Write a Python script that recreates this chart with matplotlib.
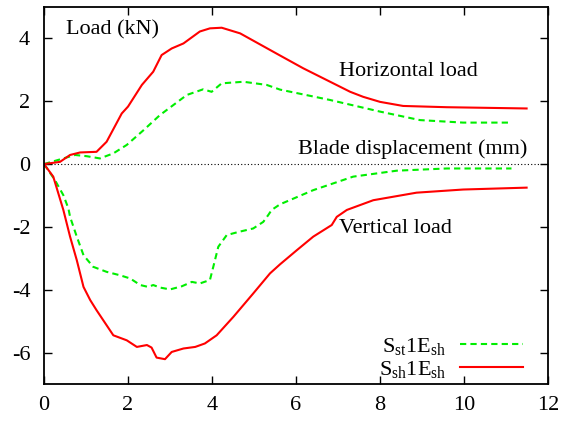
import matplotlib
matplotlib.use("Agg")
import matplotlib.pyplot as plt
import numpy as np

plt.rcParams['font.family'] = ['Liberation Serif', 'DejaVu Serif']
plt.rcParams['mathtext.fontset'] = 'custom'
plt.rcParams['mathtext.rm'] = 'Liberation Serif'
plt.rcParams['mathtext.it'] = 'Liberation Serif:italic'

# Sst1Esh (green, dashed) horizontal load
st_h_x = [0, 0.46, 0.74, 1.02, 1.33, 1.65, 1.97, 2.37, 2.76, 3.08, 3.40, 3.79, 3.99, 4.23, 4.75, 5.30, 5.62, 6.81, 8.0, 8.95, 9.98, 11.13]
st_h_y = [0, 0.18, 0.29, 0.25, 0.18, 0.34, 0.61, 1.08, 1.56, 1.88, 2.20, 2.38, 2.30, 2.57, 2.62, 2.52, 2.37, 2.04, 1.67, 1.40, 1.32, 1.32]
# Sst1Esh vertical load
st_v_x = [0, 0.26, 0.46, 0.58, 0.62, 0.78, 0.94, 1.17, 1.49, 1.81, 2.05, 2.29, 2.48, 2.60, 2.76, 3.0, 3.28, 3.52, 3.71, 3.95, 4.03, 4.15, 4.35, 4.63, 4.98, 5.22, 5.34, 5.42, 5.62, 6.41, 7.36, 8.40, 9.59, 11.13]
st_v_y = [0, -0.51, -0.99, -1.41, -1.68, -2.31, -2.90, -3.27, -3.43, -3.54, -3.64, -3.85, -3.91, -3.85, -3.93, -3.99, -3.89, -3.75, -3.80, -3.69, -3.27, -2.63, -2.26, -2.16, -2.05, -1.84, -1.62, -1.46, -1.28, -0.83, -0.40, -0.21, -0.14, -0.14]
# Ssh1Esh (red, solid) horizontal load
sh_h_x = [0, 0.38, 0.62, 0.86, 1.25, 1.49, 1.85, 2.0, 2.33, 2.6, 2.8, 3.04, 3.32, 3.71, 3.95, 4.23, 4.67, 5.6, 6.17, 7.29, 7.6, 8.0, 8.55, 9.59, 11.49]
sh_h_y = [0, 0.07, 0.29, 0.37, 0.39, 0.71, 1.61, 1.83, 2.52, 2.94, 3.47, 3.68, 3.84, 4.22, 4.32, 4.34, 4.16, 3.47, 3.05, 2.30, 2.14, 1.98, 1.85, 1.81, 1.77]
# Ssh1Esh vertical load
sh_v_x = [0, 0.22, 0.46, 0.62, 0.78, 0.94, 1.10, 1.25, 1.41, 1.65, 1.97, 2.21, 2.45, 2.56, 2.68, 2.88, 3.04, 3.32, 3.60, 3.83, 4.11, 4.51, 4.98, 5.38, 5.62, 6.02, 6.41, 6.85, 6.97, 7.21, 7.84, 8.87, 9.98, 11.49]
sh_v_y = [0, -0.40, -1.46, -2.31, -3.06, -3.91, -4.33, -4.65, -4.97, -5.45, -5.61, -5.82, -5.76, -5.84, -6.16, -6.21, -5.98, -5.87, -5.82, -5.71, -5.45, -4.86, -4.12, -3.48, -3.19, -2.74, -2.31, -1.94, -1.68, -1.46, -1.15, -0.91, -0.81, -0.75]

x_ticks = [0, 2, 4, 6, 8, 10, 12]
y_ticks = [-6, -4, -2, 0, 2, 4]

fig = plt.figure(figsize=(5.63, 4.21), dpi=100)
ax = fig.add_axes([0.0782, 0.0879, 0.8952, 0.8955])

green = '#00ee00'
red = '#ff0000'

ax.plot([0, 12], [0, 0], color='black', linestyle=(0, (1, 2)), linewidth=0.8)
l1, = ax.plot(st_h_x, st_h_y, color=green, linestyle=(0, (3, 2)), linewidth=1.5,
              label=r'$\mathrm{S_{st}1E_{sh}}$')
ax.plot(st_v_x, st_v_y, color=green, linestyle=(0, (3, 2)), linewidth=1.5)
l2, = ax.plot(sh_h_x, sh_h_y, color=red, linewidth=1.5, label=r'$\mathrm{S_{sh}1E_{sh}}$')
ax.plot(sh_v_x, sh_v_y, color=red, linewidth=1.5)

ax.set_xlim(0, 12)
ax.set_ylim(-7, 5)
ax.set_xticks(x_ticks)
ax.set_yticks(y_ticks)
ax.set_xticklabels([str(v) for v in x_ticks])
ax.set_yticklabels([str(v) for v in y_ticks])
ax.tick_params(direction='in', length=6, width=1, top=True, right=True,
               labelsize=16, color='black')
ax.tick_params(axis='y', pad=10)
ax.tick_params(axis='x', pad=9)
for s in ax.spines.values():
    s.set_linewidth(1.3)

fs = 16
ax.text(0.52, 4.27, 'Load (kN)', fontsize=fs, ha='left', va='center')
ax.text(7.02, 2.96, 'Horizontal load', fontsize=fs, ha='left', va='center')
ax.text(11.52, 0.47, 'Blade displacement (mm)', fontsize=fs, ha='right', va='center')
ax.text(7.02, -2.04, 'Vertical load', fontsize=fs, ha='left', va='center')

leg = ax.legend(handles=[l1, l2], loc='lower right', markerfirst=False, frameon=False,
                fontsize=fs, handlelength=2.8, handletextpad=0.63, labelspacing=0.1,
                borderaxespad=0.0, bbox_to_anchor=(0.967, -0.0136))
for t in leg.get_texts():
    t.set_ha('right')

fig.savefig('out.png', dpi=100)
